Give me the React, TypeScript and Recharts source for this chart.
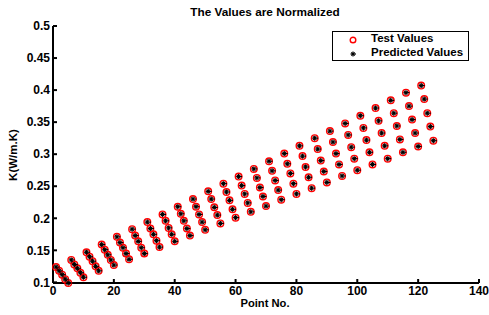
import { ScatterChart, Scatter, XAxis, YAxis } from "recharts";

// point numbers 1..125 (25 groups of 5)
const pointNo = [
  1, 2, 3, 4, 5, 6, 7, 8, 9, 10, 11, 12, 13, 14, 15, 16, 17, 18, 19, 20,
  21, 22, 23, 24, 25, 26, 27, 28, 29, 30, 31, 32, 33, 34, 35, 36, 37, 38, 39, 40,
  41, 42, 43, 44, 45, 46, 47, 48, 49, 50, 51, 52, 53, 54, 55, 56, 57, 58, 59, 60,
  61, 62, 63, 64, 65, 66, 67, 68, 69, 70, 71, 72, 73, 74, 75, 76, 77, 78, 79, 80,
  81, 82, 83, 84, 85, 86, 87, 88, 89, 90, 91, 92, 93, 94, 95, 96, 97, 98, 99, 100,
  101, 102, 103, 104, 105, 106, 107, 108, 109, 110, 111, 112, 113, 114, 115, 116, 117, 118, 119, 120,
  121, 122, 123, 124, 125,
];

const testValues = [
  0.124, 0.118, 0.112, 0.105, 0.099,
  0.135, 0.128, 0.122, 0.115, 0.108,
  0.147, 0.14, 0.133, 0.125, 0.118,
  0.159, 0.151, 0.143, 0.135, 0.127,
  0.171, 0.162, 0.154, 0.145, 0.136,
  0.183, 0.173, 0.164, 0.154, 0.145,
  0.194, 0.184, 0.175, 0.165, 0.155,
  0.206, 0.196, 0.185, 0.175, 0.164,
  0.218, 0.207, 0.196, 0.184, 0.173,
  0.23, 0.218, 0.206, 0.194, 0.182,
  0.242, 0.23, 0.217, 0.205, 0.192,
  0.254, 0.241, 0.228, 0.214, 0.201,
  0.265, 0.251, 0.238, 0.224, 0.21,
  0.277, 0.263, 0.248, 0.234, 0.219,
  0.289, 0.274, 0.259, 0.244, 0.229,
  0.301, 0.285, 0.27, 0.254, 0.238,
  0.313, 0.297, 0.28, 0.264, 0.247,
  0.325, 0.308, 0.29, 0.273, 0.256,
  0.336, 0.319, 0.301, 0.284, 0.266,
  0.348, 0.33, 0.311, 0.293, 0.275,
  0.36, 0.341, 0.322, 0.303, 0.284,
  0.372, 0.352, 0.333, 0.313, 0.293,
  0.384, 0.364, 0.344, 0.323, 0.303,
  0.396, 0.375, 0.354, 0.333, 0.312,
  0.407, 0.386, 0.364, 0.343, 0.321,
];

// predictions sit right on top of the test values
const predictedValues = [
  0.124, 0.118, 0.112, 0.105, 0.099,
  0.135, 0.128, 0.122, 0.115, 0.108,
  0.147, 0.14, 0.133, 0.125, 0.118,
  0.159, 0.151, 0.143, 0.135, 0.127,
  0.171, 0.162, 0.154, 0.145, 0.136,
  0.183, 0.173, 0.164, 0.154, 0.145,
  0.194, 0.184, 0.175, 0.165, 0.155,
  0.206, 0.196, 0.185, 0.175, 0.164,
  0.218, 0.207, 0.196, 0.184, 0.173,
  0.23, 0.218, 0.206, 0.194, 0.182,
  0.242, 0.23, 0.217, 0.205, 0.192,
  0.254, 0.241, 0.228, 0.214, 0.201,
  0.265, 0.251, 0.238, 0.224, 0.21,
  0.277, 0.263, 0.248, 0.234, 0.219,
  0.289, 0.274, 0.259, 0.244, 0.229,
  0.301, 0.285, 0.27, 0.254, 0.238,
  0.313, 0.297, 0.28, 0.264, 0.247,
  0.325, 0.308, 0.29, 0.273, 0.256,
  0.336, 0.319, 0.301, 0.284, 0.266,
  0.348, 0.33, 0.311, 0.293, 0.275,
  0.36, 0.341, 0.322, 0.303, 0.284,
  0.372, 0.352, 0.333, 0.313, 0.293,
  0.384, 0.364, 0.344, 0.323, 0.303,
  0.396, 0.375, 0.354, 0.333, 0.312,
  0.407, 0.386, 0.364, 0.343, 0.321,
];

const xTicks = [0, 20, 40, 60, 80, 100, 120, 140];
const yTicks = [0.1, 0.15, 0.2, 0.25, 0.3, 0.35, 0.4, 0.45, 0.5];

const testData = pointNo.map((x, i) => ({ x, y: testValues[i] }));
const predictedData = pointNo.map((x, i) => ({ x, y: predictedValues[i] }));

const font = '"Liberation Sans", Arial, sans-serif';
const tickStyle = { fill: "#000", fontSize: 12, fontWeight: "bold", fontFamily: font };

const Circle = (props: any) => (
  <circle cx={props.cx} cy={props.cy} r={3.3} fill="none" stroke="#ff0000" strokeWidth={1.4} />
);

const Star = (props: any) => {
  const { cx, cy } = props;
  return (
    <g stroke="#000" strokeWidth={1.2}>
      <line x1={cx - 2.5} y1={cy} x2={cx + 3.5} y2={cy} />
      <line x1={cx} y1={cy - 2.5} x2={cx} y2={cy + 2.5} />
      <line x1={cx - 1.7} y1={cy - 1.7} x2={cx + 1.7} y2={cy + 1.7} />
      <line x1={cx - 1.7} y1={cy + 1.7} x2={cx + 1.7} y2={cy - 1.7} />
    </g>
  );
};

export default function App() {
  return (
    <div
      style={{
        position: "absolute",
        left: 0,
        top: 0,
        width: 489,
        height: 315,
        background: "#fff",
        fontFamily: font,
      }}
    >
      <ScatterChart width={489} height={315} margin={{ top: 26, right: 10, bottom: 0, left: 0 }}>
        <XAxis
          type="number"
          dataKey="x"
          domain={[0, 140]}
          ticks={xTicks}
          height={32}
          tick={tickStyle}
          tickSize={-4}
          tickMargin={7}
          stroke="#000"
          strokeWidth={2}
          interval={0}
        />
        <XAxis
          xAxisId="top"
          orientation="top"
          type="number"
          dataKey="x"
          domain={[0, 140]}
          ticks={xTicks}
          height={0}
          tickFormatter={() => ""}
          tickSize={-4}
          stroke="#000"
          strokeWidth={1.5}
          interval={0}
        />
        <YAxis
          type="number"
          dataKey="y"
          domain={[0.1, 0.5]}
          ticks={yTicks}
          width={53}
          tick={tickStyle}
          tickSize={-4}
          tickMargin={7}
          stroke="#000"
          strokeWidth={2}
          interval={0}
        />
        <YAxis
          yAxisId="right"
          orientation="right"
          type="number"
          dataKey="y"
          domain={[0.1, 0.5]}
          ticks={yTicks}
          width={0}
          tickFormatter={() => ""}
          tickSize={-4}
          stroke="#000"
          strokeWidth={2}
          interval={0}
        />
        <Scatter name="Test Values" data={testData} shape={Circle} isAnimationActive={false} />
        <Scatter name="Predicted Values" data={predictedData} shape={Star} isAnimationActive={false} />
      </ScatterChart>

      <div
        style={{
          position: "absolute",
          left: 0,
          width: 530,
          top: 5,
          textAlign: "center",
          fontSize: 11.8,
          fontWeight: "bold",
        }}
      >
        The Values are Normalized
      </div>
      <div
        style={{
          position: "absolute",
          left: 0,
          width: 530,
          top: 297,
          textAlign: "center",
          fontSize: 11.2,
          fontWeight: "bold",
        }}
      >
        Point No.
      </div>
      <div
        style={{
          position: "absolute",
          left: 13,
          top: 155,
          transform: "translate(-50%, -50%) rotate(-90deg)",
          fontSize: 11.5,
          fontWeight: "bold",
          whiteSpace: "nowrap",
        }}
      >
        K(W/m.K)
      </div>

      <div
        style={{
          position: "absolute",
          left: 332,
          top: 31,
          width: 135,
          height: 28,
          border: "1px solid #000",
          background: "#fff",
          fontSize: 11.5,
          fontWeight: "bold",
        }}
      >
        <svg width={20} height={28} style={{ position: "absolute", left: 10, top: 0 }}>
          <circle cx={10} cy={8} r={2.8} fill="none" stroke="#ff0000" strokeWidth={1.4} />
          <g stroke="#000" strokeWidth={1.2}>
            <line x1={7.5} y1={22} x2={13} y2={22} />
            <line x1={10} y1={19.5} x2={10} y2={24.5} />
            <line x1={8.3} y1={20.3} x2={11.7} y2={23.7} />
            <line x1={8.3} y1={23.7} x2={11.7} y2={20.3} />
          </g>
        </svg>
        <div style={{ position: "absolute", left: 38, top: 0 }}>Test Values</div>
        <div style={{ position: "absolute", left: 38, top: 14 }}>Predicted Values</div>
      </div>
    </div>
  );
}
